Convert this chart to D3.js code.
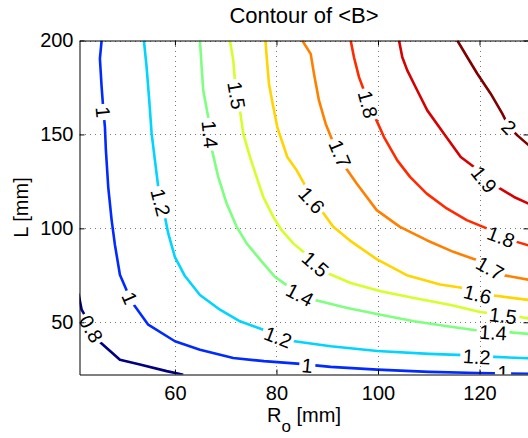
<!DOCTYPE html>
<html><head><meta charset="utf-8">
<script src="https://cdn.jsdelivr.net/npm/d3@7"></script>
<style>
html,body{margin:0;padding:0;background:#fff;}
svg{display:block;font-family:"Liberation Sans",Arial,Helvetica,sans-serif;}
</style>
</head><body>
<svg id="chart" width="528" height="438"></svg>
<script>
// ---------- data ----------
const levels = [0.8, 1, 1.2, 1.4, 1.5, 1.6, 1.7, 1.8, 1.9, 2];
const xTicks = [60, 80, 100, 120];
const yTicks = [50, 100, 150, 200];
const xDomain = [41.2, 129.65];
const yDomain = [22.2, 200];
const colorDomain = [0.8, 2.0];

// contour lines, [R_o, L] pairs
const contour_0_8 = [[41.0,65.3],[41.62,56.7],[45.22,39.5],[49.16,30.1],[53.1,27.5],[58.36,24.0],[61.64,22.1]];
const contour_1_0 = [[45.56,200],[45.22,190.3],[45.56,175.2],[45.9,163],[46.21,153.9],[46.4,141.6],[46.86,122.0],[47.53,104.4],[48.18,91.2],[49.16,75.3],[51.13,62.9],[52.12,58.5],[54.74,48.7],[60,39.9],[64.93,35.4],[71.49,31.0],[77.54,29.3],[84.1,28.0],[90.68,26.25],[99.86,24.8],[110.09,23.6],[119.57,23.0],[129.8,22.5]];
const contour_1_2 = [[53.89,200],[54.42,185.8],[54.94,168.1],[55.41,150.4],[56.06,136.2],[56.71,122.05],[57.3,114],[58.03,106.1],[58.68,97.3],[60,84.7],[61.97,74.6],[64.93,64.5],[68.87,56.7],[72.81,50.5],[77.54,45.9],[80.1,43.0],[82.8,40.2],[90.68,37.25],[99.86,34.75],[110.09,33.2],[116.95,32.5],[122.86,31.6],[129.8,30.8]];
const contour_1_4 = [[64.93,200],[65.26,185.8],[65.58,173.4],[66.56,159.2],[66.9,150.1],[67.23,142.45],[68.53,127.4],[70.19,113.2],[72.16,100.8],[74.13,92.0],[77.4,81.35],[79.7,74.2],[82.01,69.8],[87.39,62.0],[93.95,57.6],[100.53,54.0],[107.09,50.5],[113.66,47.9],[118.92,45.9],[126.15,44.6],[129.8,43.8]];
const contour_1_5 = [[70.84,200],[71.49,189.4],[71.82,178.7],[72.3,170.8],[72.81,162.8],[73.46,150.4],[74.78,138.0],[75.96,128.3],[77.40,116.7],[79.37,106.1],[81.02,99.0],[83.31,92.0],[85.28,87.5],[90.01,76.2],[94.62,70.9],[100.53,66.5],[107.09,62.9],[114.33,59.2],[120.1,55.5],[127.98,52.8],[129.8,52.0]];
const contour_1_6 = [[77.83,200],[78.13,189.4],[78.52,177.0],[79.31,165.5],[80.16,153.9],[82.13,138.0],[83.98,130.9],[85.62,123.0],[86.8,116],[88.57,110.6],[91.19,100.8],[94.48,93.5],[99.74,83.6],[105.66,75.1],[112.22,70.1],[116.81,68.2],[122.46,64.35],[129.8,61.85]];
const contour_1_7 = [[85.08,200],[86.74,192.9],[87.39,182.3],[88.37,168.1],[89.69,155.7],[91.0,146.9],[92.3,140],[93.3,133.6],[95.8,123.9],[99.74,109.7],[104.33,100.8],[109.6,93.7],[114.84,87.5],[119.45,83.1],[124.69,75.1],[129.8,72.6]];
const contour_1_8 = [[94.62,200],[95.27,191.1],[96.26,180.5],[97.24,173.4],[98.0,165.5],[99.55,158.4],[101.18,148.6],[103.8,136.2],[106.31,127.4],[109.6,118.5],[113.54,110.6],[117.48,104.4],[121.42,100.0],[124.2,96],[127.33,92.8],[129.8,90.8]];
const contour_1_9 = [[104.14,200],[104.79,191.1],[105.77,184.1],[107.74,173.4],[109.71,162.8],[113.0,150.4],[116.3,138.0],[118.92,132.7],[120.9,126],[123.51,122.05],[126.8,116.7],[129.8,113.0]];
const contour_2_0 = [[115.63,200],[117.6,191.1],[119.57,182.3],[122.2,171.7],[124.49,161.05],[125.8,154],[127.45,149.5],[129.8,144.0]];

// inline contour labels
const labelLevels = [0.8, 1, 1, 1, 1, 1.2, 1.2, 1.2, 1.4, 1.4, 1.4, 1.5, 1.5, 1.5, 1.6, 1.6, 1.7, 1.7, 1.8, 1.8, 1.9, 2];
const labelR = [43.5, 45.88, 51.13, 86.07, 124.63, 57.2, 80.3, 119.45, 66.9, 84.63, 122.66, 72.16, 87.7, 124.63, 86.94, 119.6, 92.51, 122.07, 98.03, 124.24, 120.89, 125.81];
const labelL = [46.5, 161.9, 62.9, 27.0, 23.2, 113.8, 42.2, 31.7, 150.1, 64.7, 44.6, 170.8, 81.0, 53.6, 115.0, 65.0, 139.8, 78.85, 166.0, 95.5, 126.1, 153.9];

const titleText = "Contour of <B>";
const yLabelText = "L [mm]";

// ---------- chart ----------
const contourData = [contour_0_8, contour_1_0, contour_1_2, contour_1_4, contour_1_5,
                     contour_1_6, contour_1_7, contour_1_8, contour_1_9, contour_2_0]
  .map((pts, i) => ({level: levels[i], pts}));

const svg = d3.select("#chart");
const W = 528, H = 438;
const pLeft = 79.5, pRight = 528.5, pTop = 40.5, pBottom = 374.5;

const x = d3.scaleLinear().domain(xDomain).range([pLeft, pRight]);
const y = d3.scaleLinear().domain(yDomain).range([pBottom, pTop]);
const tScale = d3.scaleLinear().domain(colorDomain).range([0, 1]);
function jet(v) {
  const t = tScale(v);
  const c = u => Math.max(0, Math.min(1, u));
  const r = c(1.5 - Math.abs(4 * t - 3));
  const g = c(1.5 - Math.abs(4 * t - 2));
  const b = c(1.5 - Math.abs(4 * t - 1));
  return d3.rgb(r * 255, g * 255, b * 255).toString();
}

const defs = svg.append("defs");
defs.append("clipPath").attr("id", "plotClip")
  .append("rect").attr("x", pLeft).attr("y", pTop)
  .attr("width", pRight - pLeft).attr("height", pBottom - pTop);

// grid
const grid = svg.append("g").attr("shape-rendering", "crispEdges")
  .attr("stroke", "#7a7a7a").attr("stroke-width", 1).attr("stroke-dasharray", "1,4");
grid.selectAll("line.gx").data(xTicks).join("line").attr("class", "gx")
  .attr("x1", d => Math.round(x(d)) + 0.5).attr("x2", d => Math.round(x(d)) + 0.5)
  .attr("y1", pTop).attr("y2", pBottom);
grid.selectAll("line.gy").data(yTicks).join("line").attr("class", "gy")
  .attr("y1", d => Math.round(y(d)) + 0.5).attr("y2", d => Math.round(y(d)) + 0.5)
  .attr("x1", pLeft).attr("x2", pRight);

// labels (measured first to build the line gaps)
const labels = labelLevels.map((lv, i) => ({level: lv, R: labelR[i], L: labelL[i]}));
function angleFor(lab) {
  const cd = contourData.find(c => c.level === lab.level);
  const px = x(lab.R), py = y(lab.L);
  let best = Infinity, ang = 0;
  for (let k = 0; k < cd.pts.length - 1; k++) {
    const ax = x(cd.pts[k][0]), ay = y(cd.pts[k][1]);
    const bx = x(cd.pts[k + 1][0]), by = y(cd.pts[k + 1][1]);
    const dx = bx - ax, dy = by - ay;
    const len2 = dx * dx + dy * dy;
    let t = len2 ? ((px - ax) * dx + (py - ay) * dy) / len2 : 0;
    t = Math.max(0, Math.min(1, t));
    const qx = ax + t * dx - px, qy = ay + t * dy - py;
    const d2 = qx * qx + qy * qy;
    if (d2 < best) { best = d2; ang = Math.atan2(dy, dx) * 180 / Math.PI; }
  }
  if (ang > 90) ang -= 180;
  if (ang <= -90) ang += 180;
  return ang;
}
labels.forEach(l => { l.angle = angleFor(l); });

const contourG = svg.append("g").attr("clip-path", "url(#plotClip)");
const labelG = svg.append("g").attr("clip-path", "url(#plotClip)");
const texts = labelG.selectAll("text").data(labels).join("text")
  .attr("transform", d => `translate(${x(d.R)},${y(d.L)}) rotate(${d.angle})`)
  .attr("text-anchor", "middle").attr("dy", "0.36em")
  .attr("font-size", 20).attr("fill", "#000")
  .text(d => String(d.level));
texts.each(function(d) { d.w = this.getComputedTextLength(); });

const mask = defs.append("mask").attr("id", "gapMask")
  .attr("maskUnits", "userSpaceOnUse").attr("x", 0).attr("y", 0)
  .attr("width", W + 100).attr("height", H);
mask.append("rect").attr("x", 0).attr("y", 0).attr("width", W + 100).attr("height", H).attr("fill", "#fff");
mask.selectAll("rect.gap").data(labels).join("rect").attr("class", "gap")
  .attr("x", d => -d.w / 2 - 2.5).attr("y", -8.5).attr("width", d => d.w + 5).attr("height", 17)
  .attr("transform", d => `translate(${x(d.R)},${y(d.L)}) rotate(${d.angle})`)
  .attr("fill", "#000");

// contour lines
const line = d3.line().x(d => x(d[0])).y(d => y(d[1]));
contourG.append("g").attr("mask", "url(#gapMask)")
  .selectAll("path").data(contourData).join("path")
  .attr("d", d => line(d.pts))
  .attr("fill", "none").attr("stroke", d => jet(d.level))
  .attr("stroke-width", 2.6).attr("stroke-linejoin", "round").attr("stroke-linecap", "butt");

// axes
const axB = d3.axisBottom(x).tickValues(xTicks).tickSizeInner(-5).tickSizeOuter(0).tickPadding(11);
const axL = d3.axisLeft(y).tickValues(yTicks).tickSizeInner(-5).tickSizeOuter(0).tickPadding(6);
const axT = d3.axisTop(x).tickValues(xTicks).tickSizeInner(-5).tickSizeOuter(0).tickFormat("");
const axR = d3.axisRight(y).tickValues(yTicks).tickSizeInner(-5).tickSizeOuter(0).tickFormat("");
function styleAxis(g) {
  g.selectAll("path.domain").attr("stroke", "#000").attr("stroke-width", 1);
  g.selectAll(".tick line").attr("stroke", "#000").attr("stroke-width", 1);
  g.selectAll(".tick text").attr("fill", "#000").attr("font-size", 20)
   .attr("font-family", '"Liberation Sans",Arial,Helvetica,sans-serif');
}
svg.append("g").attr("transform", `translate(0,${pBottom})`).call(axB).call(styleAxis);
svg.append("g").attr("transform", `translate(${pLeft},0)`).call(axL).call(styleAxis);
svg.append("g").attr("transform", `translate(0,${pTop})`).call(axT).call(styleAxis);
svg.append("g").attr("transform", `translate(${pRight},0)`).call(axR).call(styleAxis);

// title and axis labels
svg.append("text").attr("x", (pLeft + pRight) / 2).attr("y", 22.5)
  .attr("text-anchor", "middle").attr("font-size", 22).attr("fill", "#000")
  .text(titleText);

const xl = svg.append("text").attr("x", (pLeft + pRight) / 2).attr("y", 421.5)
  .attr("text-anchor", "middle").attr("font-size", 20).attr("fill", "#000");
xl.append("tspan").text("R");
xl.append("tspan").attr("font-size", 17).attr("dy", 10.5).text("o");
xl.append("tspan").attr("dy", -10.5).text(" [mm]");

svg.append("text").attr("transform", `translate(27.5,${(pTop + pBottom) / 2}) rotate(-90)`)
  .attr("text-anchor", "middle").attr("font-size", 20).attr("fill", "#000")
  .text(yLabelText);
</script>
</body></html>
